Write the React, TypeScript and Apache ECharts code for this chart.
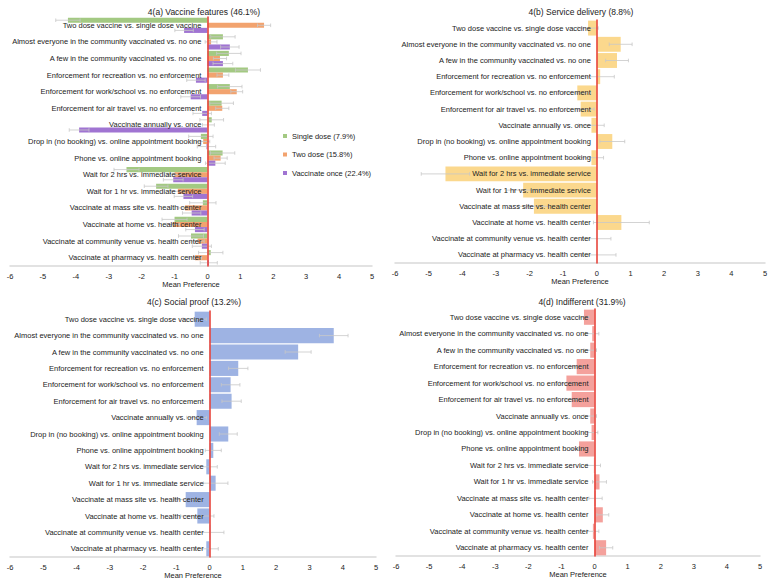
import React, { useEffect, useRef } from "react";
import * as echarts from "echarts";

const categories = [
  "Two dose vaccine vs. single dose vaccine",
  "Almost everyone in the community vaccinated vs. no one",
  "A few in the community vaccinated vs. no one",
  "Enforcement for recreation vs. no enforcement",
  "Enforcement for work/school vs. no enforcement",
  "Enforcement for air travel vs. no enforcement",
  "Vaccinate annually vs. once",
  "Drop in (no booking) vs. online appointment booking",
  "Phone vs. online appointment booking",
  "Wait for 2 hrs vs. immediate service",
  "Wait for 1 hr vs. immediate service",
  "Vaccinate at mass site vs. health center",
  "Vaccinate at home vs. health center",
  "Vaccinate at community venue vs. health center",
  "Vaccinate at pharmacy vs. health center",
];

const xTicks = [-6, -5, -4, -3, -2, -1, 0, 1, 2, 3, 4, 5];

const panelTitles = [
  "4(a) Vaccine features (46.1%)",
  "4(b) Service delivery (8.8%)",
  "4(c) Social proof (13.2%)",
  "4(d) Indifferent (31.9%)",
];

const legendNames = ["Single dose (7.9%)", "Two dose (15.8%)", "Vaccinate once (22.4%)"];

const singleDose = [-4.24, 0.47, 0.65, 1.23, 0.68, 0.43, 0.13, -0.2, 0.46, -2.46, -1.56, -0.14, -1.0, -0.5, 0.1];
const singleDoseErr = [0.37, 0.37, 0.37, 0.38, 0.37, 0.36, 0.36, 0.37, 0.37, 0.38, 0.36, 0.4, 0.38, 0.38, 0.37];
const twoDose = [1.72, 0.11, 0.38, 0.47, 0.89, 0.45, 0.03, -0.13, 0.4, -1.0, -0.9, -0.68, -1.05, -0.3, -0.38];
const twoDoseErr = [0.2, 0.18, 0.2, 0.18, 0.18, 0.2, 0.18, 0.2, 0.2, 0.2, 0.2, 0.2, 0.2, 0.2, 0.2];
const vaccinateOnce = [-0.71, 0.68, 0.47, -0.35, -0.51, -0.16, -3.9, -0.03, 0.24, -1.04, -0.73, -0.48, -0.38, -0.17, 0.04];
const vaccinateOnceErr = [0.28, 0.28, 0.3, 0.28, 0.3, 0.28, 0.3, 0.28, 0.3, 0.3, 0.28, 0.28, 0.28, 0.29, 0.26];

const serviceDelivery = [-0.26, 0.71, 0.6, 0.1, -0.58, -0.48, -0.16, 0.46, -0.16, -4.5, -2.19, -1.87, 0.73, 0.0, 0.0];
const serviceDeliveryErr = [0.3, 0.34, 0.34, 0.42, 0.4, 0.4, 0.38, 0.37, 0.36, 0.72, 0.5, 0.45, 0.83, 0.42, 0.57];

const socialProof = [-0.45, 3.73, 2.66, 0.86, 0.63, 0.66, -0.39, 0.56, 0.11, -0.1, 0.18, -0.72, -0.37, 0.02, -0.1];
const socialProofErr = [0.35, 0.43, 0.39, 0.29, 0.28, 0.29, 0.3, 0.27, 0.24, 0.33, 0.37, 0.35, 0.5, 0.41, 0.36];

const indifferent = [-0.32, -0.07, -0.13, -0.54, -0.85, -0.69, -0.13, -0.09, -0.47, -0.02, 0.15, 0.03, 0.25, -0.05, 0.35];
const indifferentErr = [0.15, 0.2, 0.19, 0.2, 0.2, 0.2, 0.19, 0.19, 0.2, 0.2, 0.21, 0.2, 0.18, 0.18, 0.2];

const FONT = "'Liberation Sans', Arial, sans-serif";
const RED = "#e8453c";
const CAT_GAP = 0.08;

const grids = [
  { left: 10, top: 17, width: 362, height: 249 },
  { left: 395, top: 20, width: 370, height: 243 },
  { left: 10, top: 311, width: 366, height: 246 },
  { left: 396, top: 309, width: 364, height: 247 },
];

const titlePos = [
  { x: 199, y: 2 },
  { x: 576, y: 2 },
  { x: 189, y: 292 },
  { x: 577, y: 292 },
];

function errData(vals: number[], errs: number[]) {
  return vals.map((v, i) => [v, i, errs[i]]);
}

function errSeries(name: string, gi: number, vals: number[], errs: number[], slot: number, nSlots: number) {
  return {
    type: "custom",
    name,
    xAxisIndex: gi,
    yAxisIndex: gi,
    z: 3,
    silent: true,
    encode: { x: 0, y: 1 },
    data: errData(vals, errs),
    renderItem: (params: any, api: any) => {
      const v = api.value(0);
      const c = api.value(1);
      const e = api.value(2);
      const p = api.coord([v, c]);
      const band = api.size([0, 1])[1];
      const usable = band * (1 - CAT_GAP);
      const bw = usable / nSlots;
      const y = p[1] - usable / 2 + (slot + 0.5) * bw;
      const lo = api.coord([v - e, c])[0];
      const hi = api.coord([v + e, c])[0];
      const cap = 1.8;
      const style = { stroke: "#c8c8c8", lineWidth: 0.8 };
      return {
        type: "group",
        children: [
          { type: "line", shape: { x1: lo, y1: y, x2: hi, y2: y }, style },
          { type: "line", shape: { x1: lo, y1: y - cap, x2: lo, y2: y + cap }, style },
          { type: "line", shape: { x1: hi, y1: y - cap, x2: hi, y2: y + cap }, style },
        ],
      };
    },
  };
}

function barSeries(name: string, gi: number, vals: number[], color: string) {
  return {
    type: "bar",
    name,
    xAxisIndex: gi,
    yAxisIndex: gi,
    data: vals,
    z: 2,
    barGap: "0%",
    barCategoryGap: CAT_GAP * 100 + "%",
    itemStyle: { color },
  };
}

export default function App() {
  const ref = useRef<HTMLDivElement>(null);
  useEffect(() => {
    if (!ref.current) return;
    const chart = echarts.init(ref.current, undefined, { renderer: "svg" });
    const xMin = xTicks[0];
    const xMax = xTicks[xTicks.length - 1];
    const xAxes = grids.map((_, gi) => ({
      type: "value",
      gridIndex: gi,
      min: xMin,
      max: xMax,
      interval: 1,
      name: "Mean Preference",
      nameLocation: "middle",
      nameGap: 13,
      nameTextStyle: { fontSize: 7.5, color: "#222", fontFamily: FONT },
      axisLine: { show: true, onZero: false, lineStyle: { color: "#d9d9d9", width: 1.5 } },
      axisTick: { show: false },
      splitLine: { show: false },
      axisLabel: { fontSize: 7.5, color: "#222", fontFamily: FONT, margin: 6 },
    }));
    // place the category axis (line + labels) at value 0 of the x axis
    const yAxes = grids.map((g, gi) => ({
      type: "category",
      gridIndex: gi,
      data: categories,
      inverse: true,
      position: "left",
      offset: -(g.width * (0 - xMin)) / (xMax - xMin),
      z: 10,
      axisLine: { show: true, onZero: false, lineStyle: { color: RED, width: 1.6 } },
      axisTick: { show: false },
      splitLine: { show: false },
      axisLabel: { fontSize: 7.5, color: "#222", fontFamily: FONT, margin: 6, interval: 0 },
    }));
    const option: any = {
      animation: false,
      textStyle: { fontFamily: FONT },
      title: panelTitles.map((t, i) => ({
        text: t,
        left: titlePos[i].x,
        top: titlePos[i].y,
        textAlign: "center",
        textStyle: { fontSize: 8.5, fontWeight: "normal", color: "#222", fontFamily: FONT },
      })),
      legend: {
        data: legendNames,
        orient: "vertical",
        left: 283,
        top: 132,
        padding: 0,
        itemWidth: 4,
        itemHeight: 4,
        itemGap: 10.5,
        icon: "rect",
        textStyle: { fontSize: 7.5, color: "#222", fontFamily: FONT },
      },
      grid: grids.map((g) => ({ ...g, containLabel: false, outerBoundsMode: "none" })),
      xAxis: xAxes,
      yAxis: yAxes,
      series: [
        barSeries(legendNames[0], 0, singleDose, "#a3c982"),
        barSeries(legendNames[1], 0, twoDose, "#f2a36f"),
        barSeries(legendNames[2], 0, vaccinateOnce, "#a074d2"),
        errSeries("e0", 0, singleDose, singleDoseErr, 0, 3),
        errSeries("e1", 0, twoDose, twoDoseErr, 1, 3),
        errSeries("e2", 0, vaccinateOnce, vaccinateOnceErr, 2, 3),
        barSeries("Service delivery", 1, serviceDelivery, "#fbd88d"),
        errSeries("e3", 1, serviceDelivery, serviceDeliveryErr, 0, 1),
        barSeries("Social proof", 2, socialProof, "#9eb3e3"),
        errSeries("e4", 2, socialProof, socialProofErr, 0, 1),
        barSeries("Indifferent", 3, indifferent, "#f4a19c"),
        errSeries("e5", 3, indifferent, indifferentErr, 0, 1),
      ],
    };
    chart.setOption(option);
    return () => chart.dispose();
  }, []);
  return (
    <div
      ref={ref}
      style={{ position: "absolute", left: 0, top: 0, width: 776, height: 582, background: "#fff" }}
    />
  );
}
